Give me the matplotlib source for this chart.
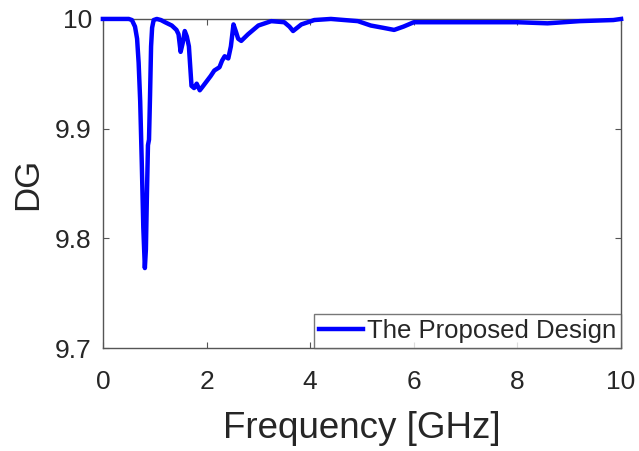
import matplotlib
matplotlib.use("Agg")
import matplotlib.pyplot as plt

freq = [0.0, 0.3, 0.5, 0.56, 0.62, 0.66, 0.69, 0.72, 0.75, 0.78, 0.81, 0.83, 0.85, 0.87, 0.89,
        0.91, 0.93, 0.95, 0.98, 1.04, 1.12, 1.2, 1.33, 1.42, 1.46, 1.5, 1.54, 1.58, 1.62, 1.66,
        1.71, 1.76, 1.81, 1.84, 1.87, 1.92, 2.0, 2.08, 2.15, 2.25, 2.3, 2.35, 2.42, 2.47, 2.52,
        2.57, 2.61, 2.67, 2.8, 3.0, 3.25, 3.5, 3.6, 3.67, 3.75, 3.83, 4.08, 4.4, 4.92, 5.17,
        5.4, 5.62, 5.8, 6.0, 6.5, 7.29, 8.0, 8.58, 9.2, 9.85, 10.0]
dg = [10.0, 10.0, 10.0, 9.999, 9.993, 9.982, 9.96, 9.925, 9.87, 9.81, 9.773, 9.79, 9.84, 9.885,
      9.89, 9.93, 9.975, 9.992, 9.999, 10.0, 9.999, 9.997, 9.994, 9.99, 9.986, 9.97, 9.978,
      9.989, 9.984, 9.975, 9.939, 9.937, 9.941, 9.938, 9.935, 9.938, 9.943, 9.948, 9.953,
      9.956, 9.962, 9.966, 9.964, 9.975, 9.995, 9.988, 9.982, 9.98, 9.986, 9.994, 9.998,
      9.997, 9.993, 9.989, 9.992, 9.995, 9.999, 10.0, 9.998, 9.994, 9.992, 9.99, 9.993,
      9.997, 9.997, 9.997, 9.997, 9.996, 9.998, 9.999, 10.0]

xticks = [0, 2, 4, 6, 8, 10]
yticks = [9.7, 9.8, 9.9, 10.0]
ytick_labels = ["9.7", "9.8", "9.9", "10"]

plt.rcParams['font.family'] = ['Liberation Sans', 'DejaVu Sans']
fig = plt.figure(figsize=(6.39, 4.51), dpi=100)
ax = fig.add_axes([0.161, 0.228, 0.811, 0.730])
ax.plot(freq, dg, color='#0000ff', linewidth=3.2, label='The Proposed Design',
        solid_joinstyle='round', clip_on=False, zorder=3)
ax.set_xlim(0, 10)
ax.set_ylim(9.7, 10.0)
ax.set_xticks(xticks)
ax.set_yticks(yticks)
ax.set_yticklabels(ytick_labels)
axc = '#262626'
for s in ax.spines.values():
    s.set_color('#555555')
    s.set_linewidth(1.0)
ax.tick_params(direction='in', length=4, width=0.8, color='#555555', labelcolor=axc,
               labelsize=19, top=True, right=True)
ax.tick_params(axis='x', pad=16)
ax.tick_params(axis='y', pad=8)
ax.set_xlabel('Frequency [GHz]', fontsize=26.5, color=axc, labelpad=12)
ax.set_ylabel('DG', fontsize=25, color=axc, labelpad=8)
leg = ax.legend(loc='lower right', borderaxespad=0, fontsize=18.5, frameon=True, fancybox=False,
                handlelength=1.7, handletextpad=0.15, borderpad=0.2)
leg.get_frame().set_edgecolor('#555555')
leg.get_frame().set_linewidth(1.0)
for t in leg.get_texts():
    t.set_color(axc)
fig.savefig('out.png', dpi=100)
